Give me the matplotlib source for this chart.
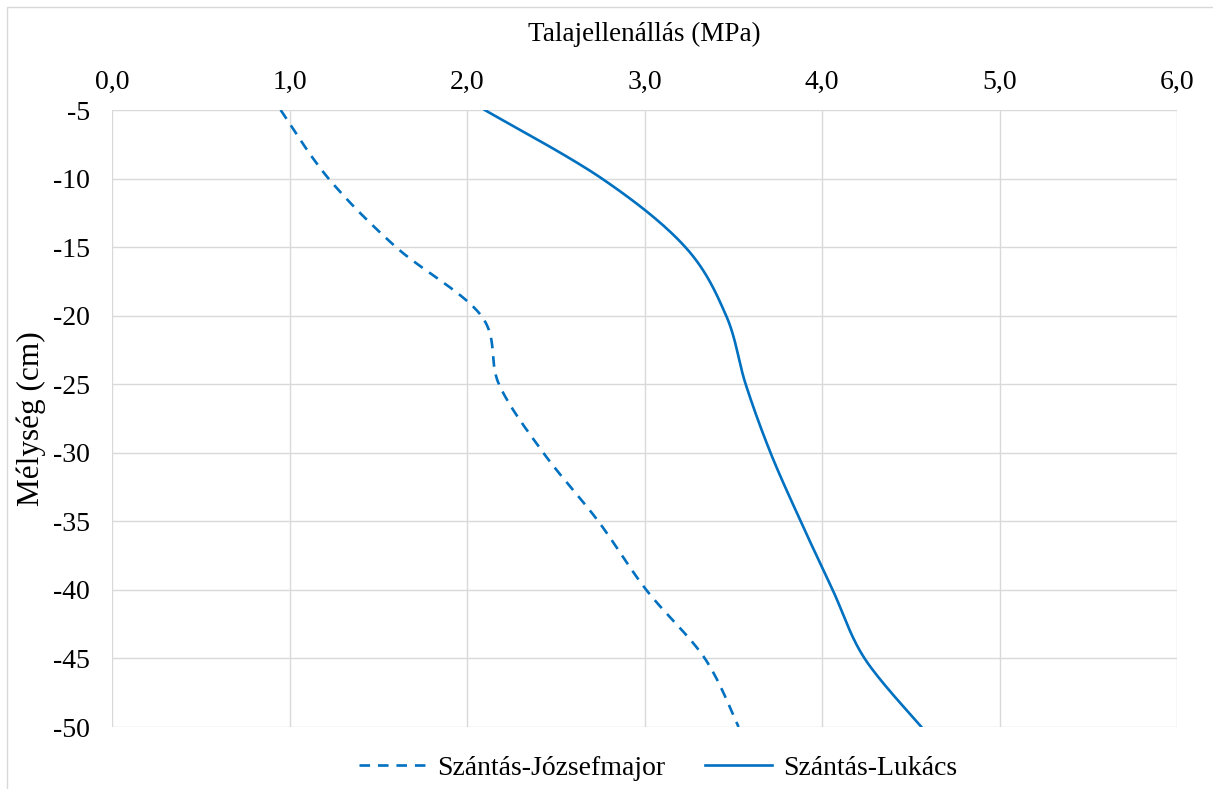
import numpy as np
import matplotlib.pyplot as plt
from matplotlib.patches import Rectangle
from matplotlib.ticker import FuncFormatter

plt.rcParams['font.family'] = ['Liberation Serif', 'DejaVu Serif']
plt.rcParams['axes.unicode_minus'] = False

melyseg = [-5, -10, -15, -20, -25, -30, -35, -40, -45, -50]
jozsefmajor = [0.95, 1.22, 1.60, 2.08, 2.18, 2.43, 2.74, 3.01, 3.34, 3.53]
lukacs = [2.10, 2.76, 3.23, 3.46, 3.57, 3.71, 3.88, 4.06, 4.24, 4.56]

szin = '#0070C0'


# Excel-szeru simitott vonal (Catmull-Rom Bezier)
def simit(x, y, n=30):
    x = np.asarray(x, float)
    y = np.asarray(y, float)
    px = np.concatenate([[x[0]], x, [x[-1]]])
    py = np.concatenate([[y[0]], y, [y[-1]]])
    ox, oy = [], []
    t = np.linspace(0, 1, n)
    for i in range(1, len(px) - 2):
        p0 = np.array([px[i], py[i]])
        p3 = np.array([px[i + 1], py[i + 1]])
        p1 = p0 + (np.array([px[i + 1], py[i + 1]]) - np.array([px[i - 1], py[i - 1]])) / 6
        p2 = p3 - (np.array([px[i + 2], py[i + 2]]) - np.array([px[i], py[i]])) / 6
        b = ((1 - t) ** 3)[:, None] * p0 + (3 * (1 - t) ** 2 * t)[:, None] * p1 \
            + (3 * (1 - t) * t ** 2)[:, None] * p2 + (t ** 3)[:, None] * p3
        ox.extend(b[:, 0])
        oy.extend(b[:, 1])
    return ox, oy


fig = plt.figure(figsize=(12.13, 7.89), dpi=100)
ax = fig.add_axes([112 / 1213, 1 - 727 / 789, (1177 - 112) / 1213, (727 - 110) / 789])

x1, y1 = simit(jozsefmajor, melyseg)
x2, y2 = simit(lukacs, melyseg)
ax.plot(x1, y1, color=szin, lw=1.9, dashes=(4, 3), label='Szántás-Józsefmajor')
ax.plot(x2, y2, color=szin, lw=1.9, label='Szántás-Lukács')

ax.set_xlim(0, 6)
ax.set_ylim(-50, -5)
ax.set_xticks(np.arange(0, 6.01, 1))
ax.set_yticks(np.arange(-50, -4, 5))
ax.xaxis.set_major_formatter(FuncFormatter(lambda v, p: f'{v:.1f}'.replace('.', ',')))
ax.xaxis.tick_top()
ax.xaxis.set_label_position('top')
ax.tick_params(length=0, labelsize=20, pad=11)
ax.tick_params(axis='y', pad=16)
ax.grid(True, color='#d9d9d9', lw=1)
for s in ax.spines.values():
    s.set_visible(False)
ax.set_xlabel('Talajellenállás (MPa)', fontsize=19.5, labelpad=21)
ax.set_ylabel('Mélység (cm)', fontsize=22.5, labelpad=5)

fig.legend(*ax.get_legend_handles_labels(), loc='center',
           bbox_to_anchor=(658 / 1213, 1 - 768 / 789), ncol=2, frameon=False,
           fontsize=20, handlelength=2.4, columnspacing=1.45, handletextpad=0.4)

fig.patches.append(Rectangle((7 / 1213, -0.01), 1, 1 - 7 / 789 + 0.01, transform=fig.transFigure,
                             fill=False, edgecolor='#d9d9d9', lw=1))

fig.savefig('out.png', dpi=100)
